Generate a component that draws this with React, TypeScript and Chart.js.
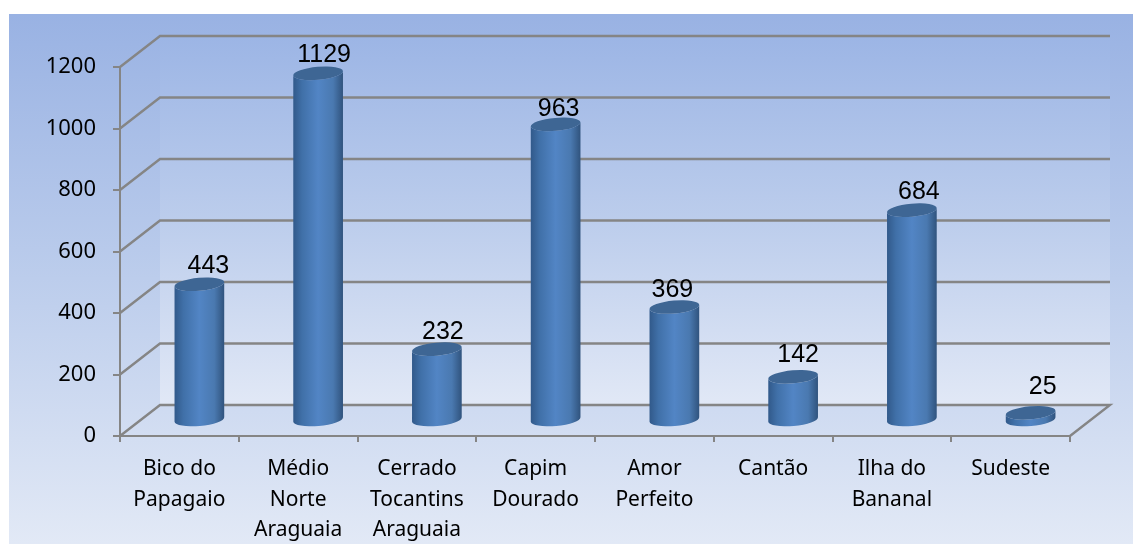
import React, { useEffect, useRef } from "react";
import { Chart, registerables } from "chart.js";

Chart.register(...registerables);

const categories: (string | string[])[] = [
  ["Bico do", "Papagaio"],
  ["Médio", "Norte", "Araguaia"],
  ["Cerrado", "Tocantins", "Araguaia"],
  ["Capim", "Dourado"],
  ["Amor", "Perfeito"],
  "Cantão",
  ["Ilha do", "Bananal"],
  "Sudeste",
];
const values = [443, 1129, 232, 963, 369, 142, 684, 25];
const labelNudgeX = [9, 6, 6, 3, -2, 5, 7, 12];
const labelNudgeY = [-18, -18, -17.5, -15, -16.5, -21.5, -18, -25.5];
const yTicks = [0, 200, 400, 600, 800, 1000, 1200];

const DEPTH_X = 40;
const DEPTH_Y = 31;
const LINE = "#858585";
const TICK_FONT = "'Noto Sans', sans-serif";

const scene = {
  id: "scene",
  beforeDraw(chart: any) {
    const { ctx, width, height, scales } = chart;
    const x = scales.x;
    const y = scales.y;
    ctx.save();
    ctx.fillStyle = "#ffffff";
    ctx.fillRect(0, 0, width, height);
    const bg = ctx.createLinearGradient(0, 14, 0, 544);
    bg.addColorStop(0, "#99b2e3");
    bg.addColorStop(0.5, "#bccdec");
    bg.addColorStop(1, "#e2e9f6");
    ctx.fillStyle = bg;
    ctx.fillRect(9, 14, width - 9, height - 14);

    const l = x.left;
    const r = x.right;
    const y0 = y.getPixelForValue(0);
    const yMax = y.getPixelForValue(yTicks[yTicks.length - 1]);
    const wall = ctx.createLinearGradient(0, yMax - DEPTH_Y, 0, y0 - DEPTH_Y);
    wall.addColorStop(0, "#9cb5e5");
    wall.addColorStop(0.5, "#bccdec");
    wall.addColorStop(1, "#e1e8f6");
    ctx.fillStyle = wall;
    ctx.fillRect(l + DEPTH_X, yMax - DEPTH_Y, r - l, y0 - yMax);

    ctx.strokeStyle = LINE;
    ctx.lineWidth = 2.4;
    for (const t of yTicks) {
      const p = y.getPixelForValue(t);
      ctx.beginPath();
      ctx.moveTo(l, p);
      ctx.lineTo(l + DEPTH_X, p - DEPTH_Y);
      ctx.lineTo(r + DEPTH_X, p - DEPTH_Y);
      if (t === 0) ctx.lineTo(r, p);
      ctx.stroke();
    }
    ctx.restore();
  },
  beforeDatasetDraw(chart: any, args: any) {
    const { ctx } = chart;
    const meta = args.meta;
    meta.data.forEach((bar: any) => {
      const { x, y, base, width } = bar.getProps(["x", "y", "base", "width"], true);
      const cx = x + DEPTH_X / 2;
      const top = y - DEPTH_Y / 2;
      const bottom = base - DEPTH_Y / 2;
      const rx = width / 2;
      const ry = 6.5;
      const rot = (-5 * Math.PI) / 180;
      ctx.save();
      const side = ctx.createLinearGradient(cx - rx, 0, cx + rx, 0);
      side.addColorStop(0, "#31598a");
      side.addColorStop(0.18, "#4070a8");
      side.addColorStop(0.5, "#5285c5");
      side.addColorStop(0.8, "#4a79b0");
      side.addColorStop(1, "#30537d");
      ctx.fillStyle = side;
      ctx.beginPath();
      ctx.ellipse(cx, bottom, rx, ry, rot, 0, Math.PI);
      ctx.ellipse(cx, top, rx, ry, rot, Math.PI, 0, true);
      ctx.closePath();
      ctx.fill();
      ctx.fillStyle = "#3e6694";
      ctx.beginPath();
      ctx.ellipse(cx, top, rx, ry, rot, 0, Math.PI * 2);
      ctx.fill();
      ctx.restore();
    });
    return false;
  },
  afterDraw(chart: any) {
    const { ctx } = chart;
    const meta = chart.getDatasetMeta(0);
    ctx.save();
    ctx.fillStyle = "#000000";
    ctx.font = "25px 'Liberation Sans', sans-serif";
    ctx.textAlign = "center";
    ctx.textBaseline = "middle";
    meta.data.forEach((bar: any, i: number) => {
      const tx = bar.x + DEPTH_X / 2 + labelNudgeX[i];
      const ty = bar.y - DEPTH_Y / 2 + labelNudgeY[i];
      ctx.fillText(String(values[i]), tx, ty);
    });
    ctx.restore();
  },
};

export default function App() {
  const ref = useRef<HTMLCanvasElement>(null);
  useEffect(() => {
    const chart = new Chart(ref.current!, {
      type: "bar",
      data: {
        labels: categories as any,
        datasets: [
          {
            data: values,
            backgroundColor: "#4f81bd",
            barPercentage: 0.42,
            categoryPercentage: 1,
          },
        ],
      },
      options: {
        responsive: false,
        animation: false,
        layout: { padding: { left: 9, top: 67, right: 63, bottom: 0 } },
        plugins: { legend: { display: false }, tooltip: { enabled: false } },
        scales: {
          x: {
            grid: {
              drawOnChartArea: false,
              drawTicks: true,
              tickLength: 6,
              color: LINE,
              lineWidth: 2,
            },
            border: { display: true, color: LINE, width: 2 },
            ticks: {
              autoSkip: false,
              maxRotation: 0,
              minRotation: 0,
              padding: 12,
              color: "#000000",
              font: { family: TICK_FONT, size: 21, lineHeight: 1.45 },
            },
            afterFit(scale: any) {
              scale.height = 108;
            },
          },
          y: {
            min: 0,
            max: 1200,
            grid: {
              drawOnChartArea: false,
              drawTicks: true,
              tickLength: 7,
              color: LINE,
              lineWidth: 2,
            },
            border: { display: true, color: LINE, width: 2 },
            ticks: {
              stepSize: 200,
              padding: 17,
              color: "#000000",
              font: { family: TICK_FONT, size: 22 },
              callback: (v: any) => String(v),
            },
            afterFit(scale: any) {
              scale.width = 111;
            },
          },
        },
      },
      plugins: [scene],
    });
    return () => chart.destroy();
  }, []);
  return (
    <div style={{ position: "fixed", left: 0, top: 0, width: 1133, height: 544 }}>
      <canvas ref={ref} width={1133} height={544} style={{ display: "block" }} />
    </div>
  );
}
